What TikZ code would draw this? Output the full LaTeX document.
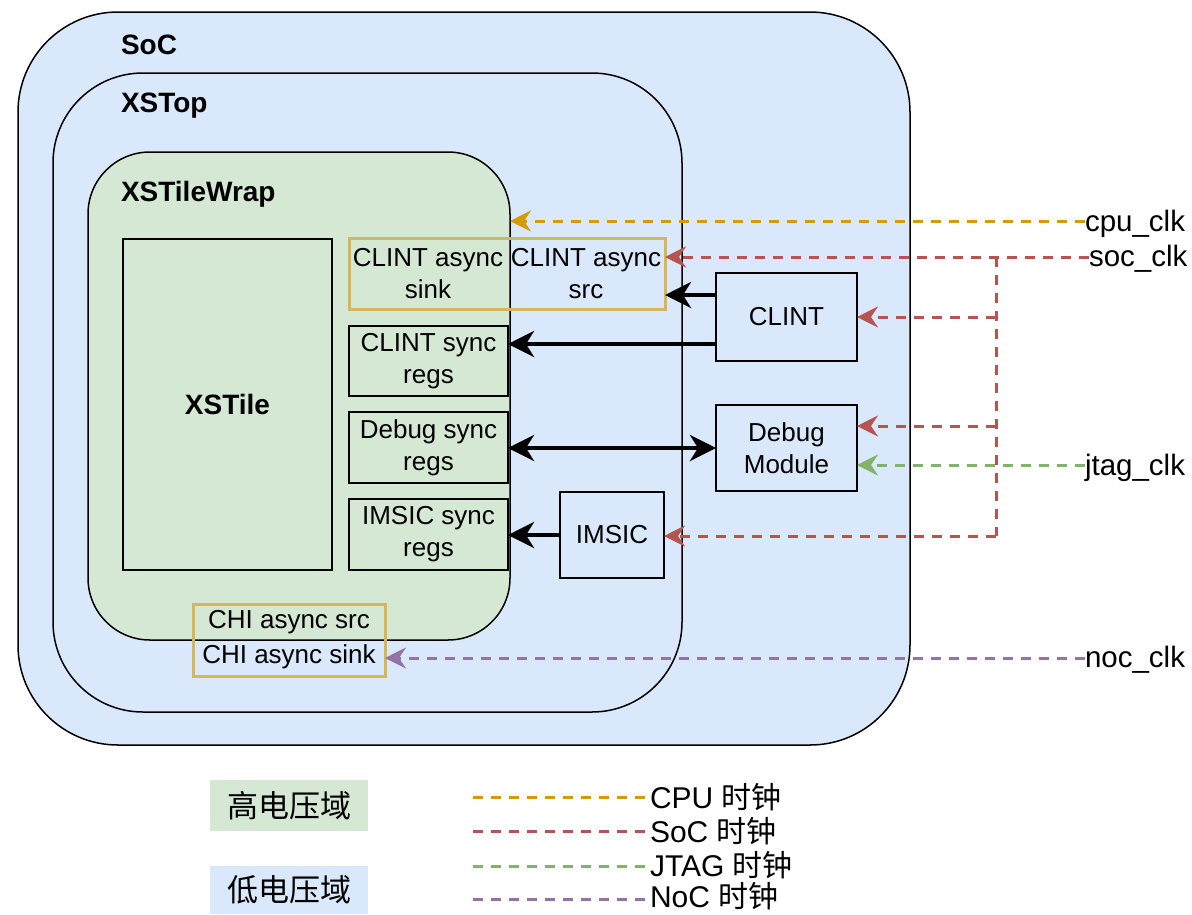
\documentclass[tikz,border=0pt]{standalone}
\usepackage{fontspec}
\setmainfont{Liberation Sans}
\newfontfamily\cjk{Noto Sans CJK SC}
\usetikzlibrary{arrows.meta,calc}
\definecolor{lowblue}{HTML}{DAE8FC}
\definecolor{highgreen}{HTML}{D5E8D4}
\definecolor{syncorange}{HTML}{D6B656}
\definecolor{cpuc}{HTML}{D79B00}
\definecolor{socc}{HTML}{B85450}
\definecolor{jtagc}{HTML}{82B366}
\definecolor{nocc}{HTML}{9673A6}
\begin{document}
\begin{tikzpicture}[x=1pt,y=-1pt,
  every node/.style={inner sep=0pt, outer sep=0pt},
  domainbox/.style={draw=black, line width=1.5pt},
  blk/.style={draw=black, line width=1.5pt, align=center, font=\fontsize{26}{32}\selectfont},
  asyncbox/.style={draw=syncorange, line width=3pt},
  txt/.style={font=\fontsize{26}{32}\selectfont, align=center},
  title/.style={font=\bfseries\fontsize{28}{32}\selectfont, anchor=west},
  clklbl/.style={font=\fontsize{29.5}{33}\selectfont, anchor=west},
  leglbl/.style={font=\fontsize{30}{33}\selectfont, anchor=west},
  bus/.style={line width=4.5pt, -{Stealth[length=26pt,width=26pt,inset=8pt]}},
  busboth/.style={line width=4.5pt, {Stealth[length=26pt,width=26pt,inset=8pt]}-{Stealth[length=26pt,width=26pt,inset=8pt]}},
  clkline/.style={line width=3pt, dash pattern=on 10pt off 8pt, -{Stealth[length=21pt,width=21pt,inset=7pt]}},
  legline/.style={line width=3pt, dash pattern=on 10pt off 8pt},
  legbox/.style={minimum width=158pt, font=\cjk\fontsize{31}{34}\selectfont},
]
\useasboundingbox (0,0) rectangle (1192,914);

% domains
\node[domainbox, fill=lowblue, rounded corners=100pt, minimum width=892pt, minimum height=733pt] (soc) at (464,378.5) {};
\node[title] (soclbl) at (121,45) {SoC};
\node[domainbox, fill=lowblue, rounded corners=90pt, minimum width=629pt, minimum height=639pt] (xstop) at (367.5,392.5) {};
\node[title] (xstoplbl) at (121,106) {XSTop};
\node[domainbox, fill=highgreen, rounded corners=62pt, minimum width=422pt, minimum height=488pt] (wrap) at (299,396) {};
\node[title] (wraplbl) at (121,194) {XSTileWrap};

% blocks
\node[blk, minimum width=209pt, minimum height=331pt, font=\bfseries\fontsize{28}{32}\selectfont] (xstile) at (227.5,404.5) {XSTile};
\node[blk, minimum width=159pt, minimum height=70pt] (clintsync) at (428.5,361) {CLINT sync\\regs};
\node[blk, minimum width=159pt, minimum height=71pt] (debugsync) at (428.5,447.5) {Debug sync\\regs};
\node[blk, minimum width=159pt, minimum height=71pt] (imsicsync) at (428.5,534.5) {IMSIC sync\\regs};
\node[blk, minimum width=141pt, minimum height=88pt] (clint) at (786.5,317) {CLINT};
\node[blk, minimum width=141pt, minimum height=86pt] (debug) at (786.5,448) {Debug\\Module};
\node[blk, minimum width=104pt, minimum height=86pt] (imsic) at (612,535) {IMSIC};

% async crossings
\node[asyncbox, minimum width=316pt, minimum height=71pt] (clintasync) at (507,273.5) {};
\node[txt] (clintsink) at (428,274) {CLINT async\\sink};
\node[txt] (clintsrc) at (586,274) {CLINT async\\src};
\node[asyncbox, minimum width=192pt, minimum height=72pt] (chi) at (289,640) {};
\node[txt] (chisrc) at (289,622) {CHI async src};
\node[txt] (chisink) at (289,657) {CHI async sink};

% data connections
\draw[bus] (clint.west |- 0,295) -- (clintasync.east |- 0,295);
\draw[bus] (clint.west |- 0,344) -- (clintsync.east |- 0,344);
\draw[busboth] (debugsync.east |- debug.west) -- (debug.west);
\draw[bus] (imsic.west) -- (imsicsync.east |- imsic.west);

% clock labels
\node[clklbl] (cpuclk) at (1085,224) {cpu\_clk};
\node[clklbl] (socclk) at (1089,259) {soc\_clk};
\node[clklbl] (jtagclk) at (1085,468) {jtag\_clk};
\node[clklbl] (nocclk) at (1085,660) {noc\_clk};

% clocks
\draw[clkline, cpuc] (cpuclk.west |- 0,221) -- (wrap.east |- 0,221);
\draw[clkline, socc] (socclk.west |- 0,257) -- (clintasync.east |- 0,257);
\coordinate (socv1) at (996,257);
\coordinate (socv2) at (996,317);
\coordinate (socv3) at (996,426);
\coordinate (socv4) at (996,536);
\draw[legline, socc] (socv1) -- (socv4);
\draw[clkline, socc] (socv4) -- (imsic.east |- socv4);
\draw[clkline, socc] (socv2) -- (clint.east |- socv2);
\draw[clkline, socc] (socv3) -- (debug.east |- socv3);
\draw[clkline, jtagc] (jtagclk.west |- 0,465) -- (debug.east |- 0,465);
\draw[clkline, nocc] (nocclk.west |- 0,658) -- (chi.east |- 0,658);

% legend
\node[legbox, fill=highgreen, minimum height=51pt] (hv) at (289,805.5) {高电压域};
\node[legbox, fill=lowblue, minimum height=48pt] (lv) at (289,890) {低电压域};
\node[leglbl] (lcpu) at (650,797) {CPU {\cjk 时钟}};
\node[leglbl] (lsoc) at (650,831) {SoC {\cjk 时钟}};
\node[leglbl] (ljtag) at (650,865) {JTAG {\cjk 时钟}};
\node[leglbl] (lnoc) at (650,896) {NoC {\cjk 时钟}};
\coordinate (lcpu0) at (473,797);
\coordinate (lsoc0) at (473,831);
\coordinate (ljtag0) at (473,866);
\coordinate (lnoc0) at (473,899);
\draw[legline, cpuc] (lcpu0) -- (lcpu.west);
\draw[legline, socc] (lsoc0) -- (lsoc.west);
\draw[legline, jtagc] (ljtag0) -- (ljtag.west |- ljtag0);
\draw[legline, nocc] (lnoc0) -- (lnoc.west |- lnoc0);
\end{tikzpicture}
\end{document}
